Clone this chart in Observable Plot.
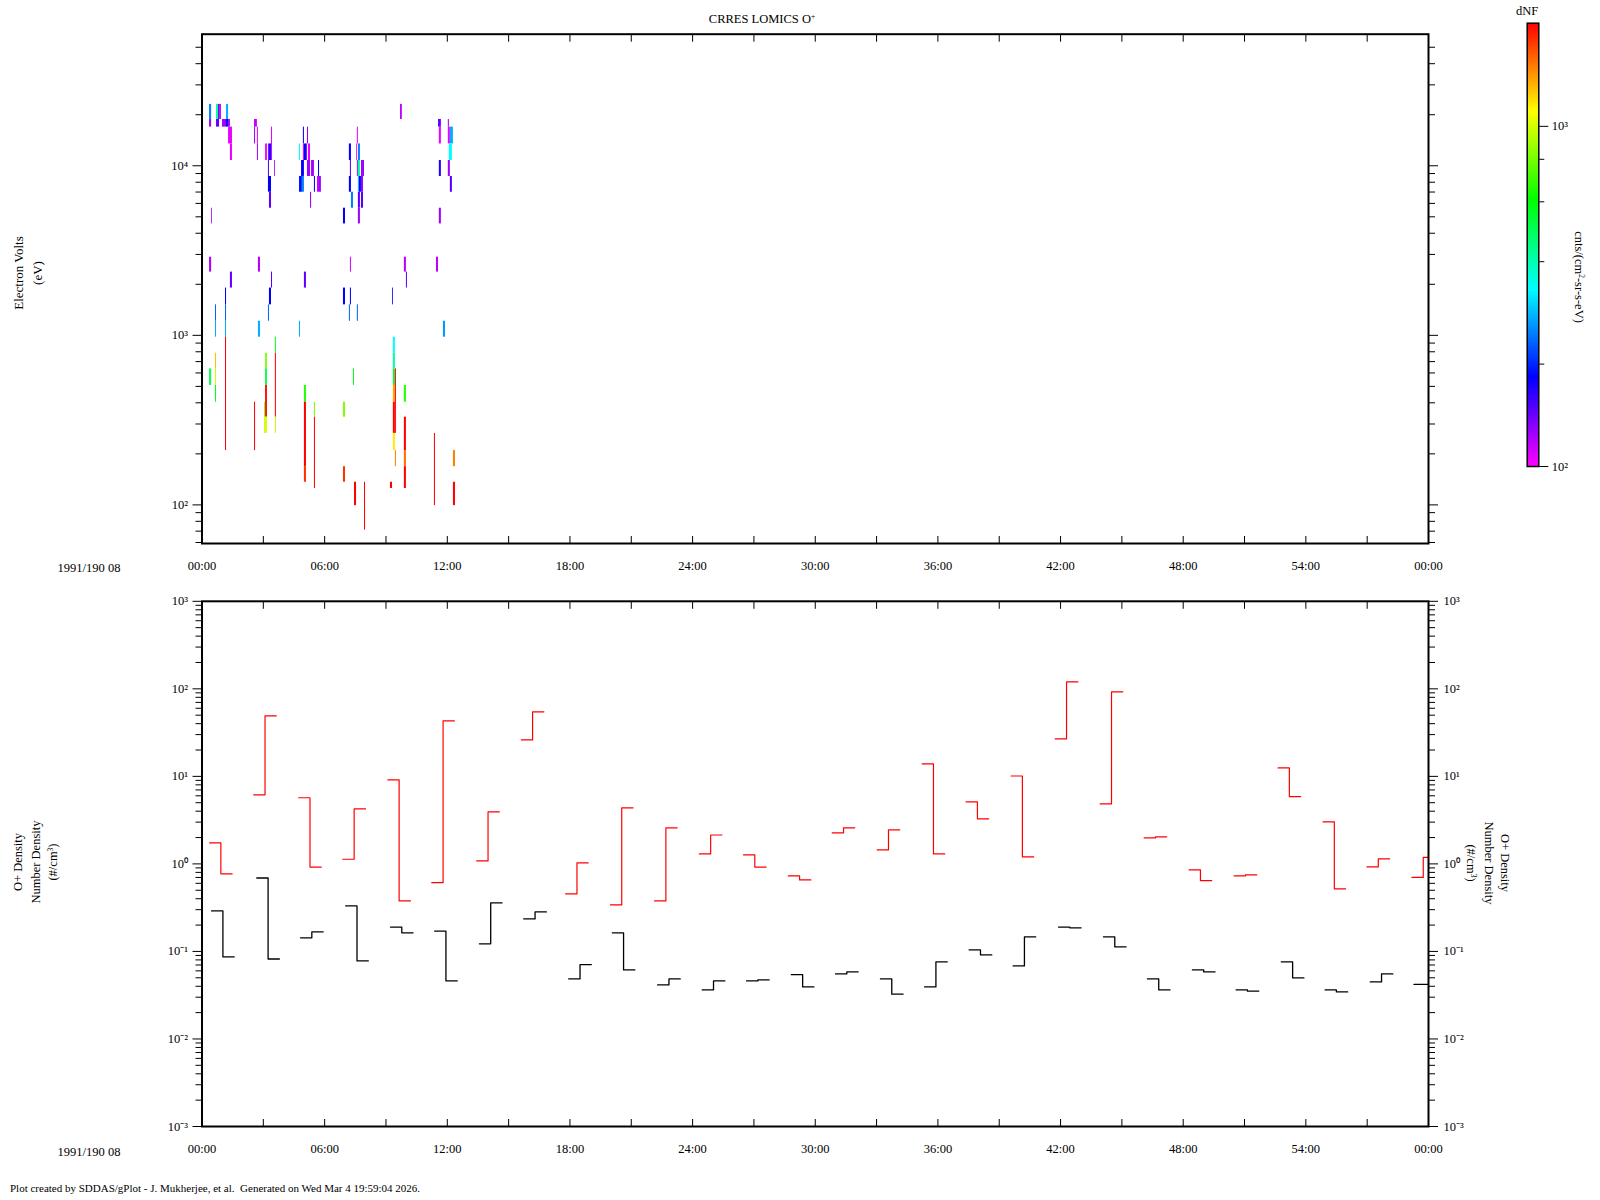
<!DOCTYPE html>
<html><head><meta charset="utf-8">
<script src="https://cdn.jsdelivr.net/npm/d3@7"></script>
<script src="https://cdn.jsdelivr.net/npm/@observablehq/plot@0.6"></script>
<style>
body{margin:0;background:#fff;}
#page{position:relative;width:1600px;height:1200px;background:#fff;font-family:"Liberation Serif","Times New Roman",serif;color:#000;overflow:hidden}
.t{position:absolute;white-space:nowrap;font-size:12.5px;line-height:1;transform:translate(-50%,-50%)}
.rl{transform:translate(-50%,-50%) rotate(-90deg)}
.rr{transform:translate(-50%,-50%) rotate(90deg)}
.plot{position:absolute;left:0}
sup{font-size:0.6em;vertical-align:0.55em;line-height:0}
</style></head><body><div id="page"></div>
<script>
// ---------- energy channels of the spectrogram (eV), high to low ----------
const energyEdges = [23010, 18750, 16900, 13450, 10740, 8650, 6980, 5620, 4540, 2890, 2360, 1900, 1513, 1211, 975, 784, 634, 506, 403, 329, 264, 209, 168, 136, 125, 99, 71];

// ---------- spectrogram cells: [startHour, endHour, firstChannel, lastChannel, dNF] ----------
const cellsHigh = [
 [0.37,0.47,0,0,246],[0.37,0.47,1,1,125],[0.47,0.51,7,7,125],
 [0.71,0.81,0,0,413],[0.71,0.86,1,1,145],[0.81,0.86,0,0,145],[0.86,0.95,0,0,120],
 [1.00,1.20,1,1,125],[1.20,1.30,0,0,275],[1.20,1.30,1,1,182],[1.30,1.39,1,1,125],
 [1.30,1.49,2,2,105],[1.39,1.49,3,3,105],
 [2.57,2.71,1,1,116],[2.57,2.62,2,2,125],[2.71,2.76,2,2,105],[2.71,2.76,3,3,125],
 [3.11,3.20,3,3,105],[3.25,3.30,3,3,125],[3.25,3.30,4,4,150],[3.30,3.40,3,3,182],
 [3.40,3.45,2,3,105],[3.25,3.40,5,5,182],[3.30,3.40,6,6,145],[3.55,3.59,4,4,125],
 [4.77,4.82,3,3,332],[4.87,5.01,4,4,182],[4.77,4.91,5,5,190],[4.91,5.01,5,5,246],
 [4.96,5.01,2,2,182],[4.96,5.01,3,3,105],[5.01,5.11,3,3,182],[5.11,5.16,3,3,125],
 [5.16,5.21,2,2,130],[5.21,5.31,3,3,105],[5.16,5.31,4,4,125],[5.31,5.36,6,6,130],
 [5.36,5.50,4,4,125],[5.50,5.55,5,5,182],[5.65,5.75,5,5,110],[5.70,5.75,4,4,182],[5.75,5.84,5,5,130],
 [6.92,7.02,7,7,182],[7.21,7.31,3,3,182],[7.21,7.31,5,5,182],[7.26,7.31,4,4,150],[7.31,7.41,6,6,246],
 [7.56,7.60,3,3,105],[7.60,7.65,2,2,105],[7.60,7.65,4,4,125],
 [7.65,7.75,3,3,246],[7.65,7.75,4,4,413],[7.65,7.75,6,6,150],[7.65,7.75,7,7,125],
 [7.65,7.70,5,5,290],[7.70,7.80,5,5,182],[7.80,7.90,5,5,125],[7.80,7.90,6,6,150],[7.80,7.95,4,4,125],
 [9.71,9.80,0,0,116],
 [11.57,11.71,1,1,145],[11.61,11.71,2,2,105],[11.61,11.71,4,4,170],[11.61,11.71,7,7,125],
 [12.05,12.10,1,1,130],[12.05,12.15,2,2,105],[12.05,12.15,4,4,125],
 [12.15,12.30,2,2,275],[12.10,12.25,3,3,332],[12.15,12.25,5,5,150]
];
const cellsMid = [
 [0.37,0.47,9,9,120],[2.76,2.86,9,9,120],[7.26,7.31,9,9,110],[9.90,10.00,9,9,116],[11.47,11.57,9,9,116],
 [1.39,1.49,10,10,145],[3.40,3.45,10,10,145],[5.01,5.11,10,10,145],[10.00,10.05,10,10,145],
 [1.15,1.20,11,11,182],[1.15,1.20,12,12,230],[1.15,1.20,13,13,275],
 [3.30,3.40,11,11,182],[6.92,7.02,11,11,182],[7.26,7.31,11,11,182],[9.32,9.36,11,11,182],
 [0.66,0.71,12,12,230],[0.66,0.71,13,13,275],[3.25,3.30,12,12,230],[7.21,7.26,12,12,230],[7.60,7.65,12,12,230],
 [2.76,2.86,13,13,275],[4.77,4.82,13,13,275],[11.81,11.91,13,13,260]
];
const cellsLow = [
 [1.15,1.20,14,20,2000],
 [3.59,3.64,14,14,560],[3.59,3.64,15,18,2000],[3.59,3.64,19,19,950],
 [0.66,0.71,15,15,1280],[0.66,0.71,16,16,985],[0.66,0.71,17,17,560],
 [3.11,3.20,15,15,816],[3.11,3.20,16,16,520],[3.11,3.20,17,18,2000],[3.11,3.20,19,19,985],
 [3.06,3.11,18,18,816],[3.06,3.11,19,19,985],
 [0.37,0.47,16,16,500],
 [2.57,2.62,18,20,2000],
 [5.01,5.11,17,17,656],[5.01,5.11,18,21,2000],[5.01,5.11,22,22,1790],
 [5.50,5.55,18,18,816],[5.50,5.55,19,23,2000],
 [9.36,9.46,14,14,332],[9.36,9.46,15,15,413],[9.36,9.46,16,16,520],[9.36,9.46,17,17,1350],[9.36,9.46,18,19,2000],[9.36,9.46,20,20,1150],
 [9.46,9.51,16,19,2000],[9.46,9.51,21,21,1487],
 [7.41,7.46,16,16,560],
 [9.90,10.00,17,17,656],[9.90,10.00,19,20,2000],[9.90,10.00,21,21,1550],[9.90,10.00,22,23,2000],
 [6.92,7.02,18,18,816],[6.92,7.02,22,22,1790],
 [9.22,9.32,23,23,2000],[7.46,7.56,23,24,2000],[7.95,8.00,23,25,2000],
 [11.37,11.42,20,24,2000],
 [12.30,12.40,21,21,1487],[12.30,12.40,23,24,2000]
];

// ---------- O+ density step traces (each sample pair starts at *Start, hours) ----------
const stepHours = 0.553;
const redStart  = [0.37,2.53,4.73,6.89,9.09,11.24,13.44,15.62,17.79,19.98,22.14,24.33,26.49,28.68,30.83,33.03,35.23,37.38,39.58,41.74,43.94,46.09,48.29,50.49,52.64,54.84,56.99,59.19];
const redFirst  = [1.74,6.15,5.7,1.13,9.12,0.61,1.08,26.1,0.454,0.34,0.378,1.30,1.27,0.73,2.26,1.445,13.9,5.11,10.1,26.8,4.85,1.98,0.854,0.73,12.5,3.02,0.924,0.70];
const redSecond = [0.77,49.1,0.92,4.25,0.378,43,3.93,54.6,1.03,4.37,2.58,2.14,0.92,0.656,2.58,2.45,1.30,3.27,1.20,120,92.4,2.04,0.644,0.749,5.88,0.518,1.14,1.19];
const blackStart  = [0.47,2.68,4.82,7.03,9.22,11.38,13.57,15.74,17.94,20.07,22.29,24.47,26.64,28.83,30.99,33.19,35.35,37.53,39.68,41.90,44.10,46.25,48.45,50.59,52.80,54.94,57.15,59.29];
const blackFirst  = [0.290,0.69,0.143,0.331,0.19,0.171,0.122,0.235,0.0485,0.163,0.0414,0.0363,0.046,0.0543,0.0553,0.0485,0.0393,0.104,0.0683,0.19,0.1465,0.0485,0.0615,0.0363,0.0759,0.0363,0.0448,0.042];
const blackSecond = [0.0865,0.082,0.167,0.078,0.163,0.046,0.358,0.283,0.0707,0.0615,0.0485,0.046,0.0472,0.0393,0.0583,0.0325,0.0759,0.0912,0.1465,0.186,0.1125,0.0363,0.0583,0.0352,0.0498,0.0345,0.0553,0.042];

// ---------- ticks ----------
const timeTicks = [0,6,12,18,24,30,36,42,48,54,60];
const timeLabels = ["00:00","06:00","12:00","18:00","24:00","30:00","36:00","42:00","48:00","54:00","00:00"];
const timeMinorTicks = [0,3,6,9,12,15,18,21,24,27,30,33,36,39,42,45,48,51,54,57,60];
const energyDomain = [59.2, 59700];
const energyTicks = [100, 1000, 10000];
const densityDomain = [1e-3, 1e3];
const densityTicks = [1e-3, 1e-2, 1e-1, 1, 10, 100, 1000];
const colorDomain = [100, 2010];
const colorTicks = [100, 1000];
const colorMinorTicks = [200, 400, 600, 800];

// ---------- helpers ----------
function minorLog([lo, hi]) {
  const out = [];
  for (let e = Math.floor(Math.log10(lo)); e <= Math.ceil(Math.log10(hi)); e++)
    for (let m = 2; m <= 9; m++) { const v = m * Math.pow(10, e); if (v >= lo && v <= hi) out.push(v); }
  return out;
}
const SUP = {"-":"⁻","0":"⁰","1":"¹","2":"²","3":"³","4":"⁴","5":"⁵","6":"⁶","7":"⁷","8":"⁸","9":"⁹"};
const pow10 = d => "10" + String(Math.round(Math.log10(d))).split("").map(c => SUP[c]).join("");
const blank = () => "";
const fmtTime = d => timeLabels[timeTicks.indexOf(d)];
const hueRamp = t => d3.hsl(300 * (1 - t), 1, 0.5).formatHex();
const font = {fontFamily: '"Liberation Serif","Times New Roman",serif', fontSize: "12.5px", color: "black", background: "transparent", overflow: "visible"};

function frameAxes(yTicks, yDomain, leftLabels, rightLabels) {
  const minor = minorLog(yDomain);
  return [
    Plot.frame({stroke: "black", strokeWidth: 2}),
    Plot.axisX({anchor: "bottom", ticks: timeMinorTicks, tickSize: -7, tickFormat: blank, label: null}),
    Plot.axisX({anchor: "top", ticks: timeMinorTicks, tickSize: -7, tickFormat: blank, label: null}),
    Plot.axisX({anchor: "bottom", ticks: timeTicks, tickSize: 0, tickPadding: 18, tickFormat: fmtTime, label: null}),
    Plot.axisY({anchor: "left", ticks: yTicks, tickSize: 9, tickPadding: 5, tickFormat: leftLabels ? pow10 : blank, label: null}),
    Plot.axisY({anchor: "left", ticks: minor, tickSize: 6, tickFormat: blank, label: null}),
    Plot.axisY({anchor: "right", ticks: yTicks, tickSize: 9, tickPadding: 6, tickFormat: rightLabels ? pow10 : blank, label: null}),
    Plot.axisY({anchor: "right", ticks: minor, tickSize: 6, tickFormat: blank, label: null})
  ];
}

const page = document.getElementById("page");
function place(node, left, top) { node.classList.add("plot"); node.style.left = left + "px"; node.style.top = top + "px"; page.appendChild(node); }
function text(html, x, y, cls = "", size) {
  const d = document.createElement("div");
  d.className = "t " + cls; d.innerHTML = html;
  d.style.left = x + "px"; d.style.top = y + "px";
  if (size) d.style.fontSize = size + "px";
  page.appendChild(d);
}

// ---------- top panel: spectrogram ----------
const cells = [...cellsHigh, ...cellsMid, ...cellsLow].map(([t0, t1, c0, c1, v]) => ({t0, t1, eLo: energyEdges[c1 + 1], eHi: energyEdges[c0], v}));
const colorScale = {type: "log", domain: colorDomain, interpolate: hueRamp, clamp: true};
const topPlot = Plot.plot({
  width: 1600, height: 600,
  marginLeft: 201.5, marginRight: 172, marginTop: 33.7, marginBottom: 57,
  style: font,
  x: {domain: [0, 60]},
  y: {type: "log", domain: energyDomain},
  color: colorScale,
  marks: [
    Plot.rect(cells, {x1: "t0", x2: "t1", y1: "eLo", y2: "eHi", fill: "v"}),
    ...frameAxes(energyTicks, energyDomain, true, false)
  ]
});
place(topPlot, 0, 0);

// ---------- bottom panel: densities ----------
const pairs = (start, a, b, name) => start.flatMap((t, i) => [
  {t: t, v: a[i], pair: name + i},
  {t: t + stepHours, v: b[i], pair: name + i},
  {t: t + 2 * stepHours, v: b[i], pair: name + i}
]);
const bottomPlot = Plot.plot({
  width: 1600, height: 600,
  marginLeft: 201.5, marginRight: 172, marginTop: 20.8, marginBottom: 54,
  style: font,
  x: {domain: [0, 60]},
  y: {type: "log", domain: densityDomain},
  marks: [
    Plot.line(pairs(redStart, redFirst, redSecond, "r"), {x: "t", y: "v", z: "pair", curve: "step-after", stroke: "#ff0000", strokeWidth: 1.2, clip: true}),
    Plot.line(pairs(blackStart, blackFirst, blackSecond, "k"), {x: "t", y: "v", z: "pair", curve: "step-after", stroke: "black", strokeWidth: 1.3, clip: true}),
    ...frameAxes(densityTicks, densityDomain, true, true)
  ]
});
place(bottomPlot, 0, 580);

// ---------- colour bar ----------
const rampN = 220;
const lr0 = Math.log10(colorDomain[0]), lr1 = Math.log10(colorDomain[1]);
const ramp = d3.range(rampN).map(i => {
  const a = Math.pow(10, lr0 + (lr1 - lr0) * i / rampN), b = Math.pow(10, lr0 + (lr1 - lr0) * Math.min(rampN, i + 1.6) / rampN);
  return {a, b, v: Math.pow(10, lr0 + (lr1 - lr0) * (i + 0.5) / rampN)};
});
const barPlot = Plot.plot({
  width: 120, height: 480,
  marginLeft: 36.7, marginRight: 71.7, marginTop: 22.7, marginBottom: 14,
  style: font,
  x: {domain: [0, 1], axis: null},
  y: {type: "log", domain: colorDomain},
  color: colorScale,
  marks: [
    Plot.rect(ramp, {x1: 0, x2: 1, y1: "a", y2: "b", fill: "v", shapeRendering: "crispEdges"}),
    Plot.frame({stroke: "black", strokeWidth: 1.5}),
    Plot.axisY({anchor: "right", ticks: colorTicks, tickSize: 9, tickPadding: 4, tickFormat: pow10, label: null}),
    Plot.axisY({anchor: "right", ticks: colorMinorTicks, tickSize: 5, tickFormat: blank, label: null})
  ]
});
place(barPlot, 1490, 0);

// ---------- texts ----------
text("CRRES LOMICS O<sup>+</sup>", 762, 18.5);
text("dNF", 1527, 11);
text("cnts/(cm<sup>2</sup>-sr-s-eV)", 1579, 277, "rr");
text("Electron Volts", 18.4, 273, "rl", 13);
text("(eV)", 36.7, 273, "rl", 13);
text("1991/190 08", 89, 568);
text("1991/190 08", 89, 1152);
text("O+ Density", 18.4, 862, "rl");
text("Number Density", 35.7, 862, "rl");
text("(#/cm<sup>3</sup>)", 53, 862, "rl");
text("O+ Density", 1505, 863, "rr");
text("Number Density", 1489, 863, "rr");
text("(#/cm<sup>3</sup>)", 1471, 863, "rr");
const foot = document.createElement("div");
foot.className = "t"; foot.style.transform = "translate(0,-50%)"; foot.style.left = "10px"; foot.style.top = "1188px"; foot.style.fontSize = "11px";
foot.textContent = "Plot created by SDDAS/gPlot - J. Mukherjee, et al.  Generated on Wed Mar 4 19:59:04 2026.";
foot.style.whiteSpace = "pre";
page.appendChild(foot);
</script></body></html>
